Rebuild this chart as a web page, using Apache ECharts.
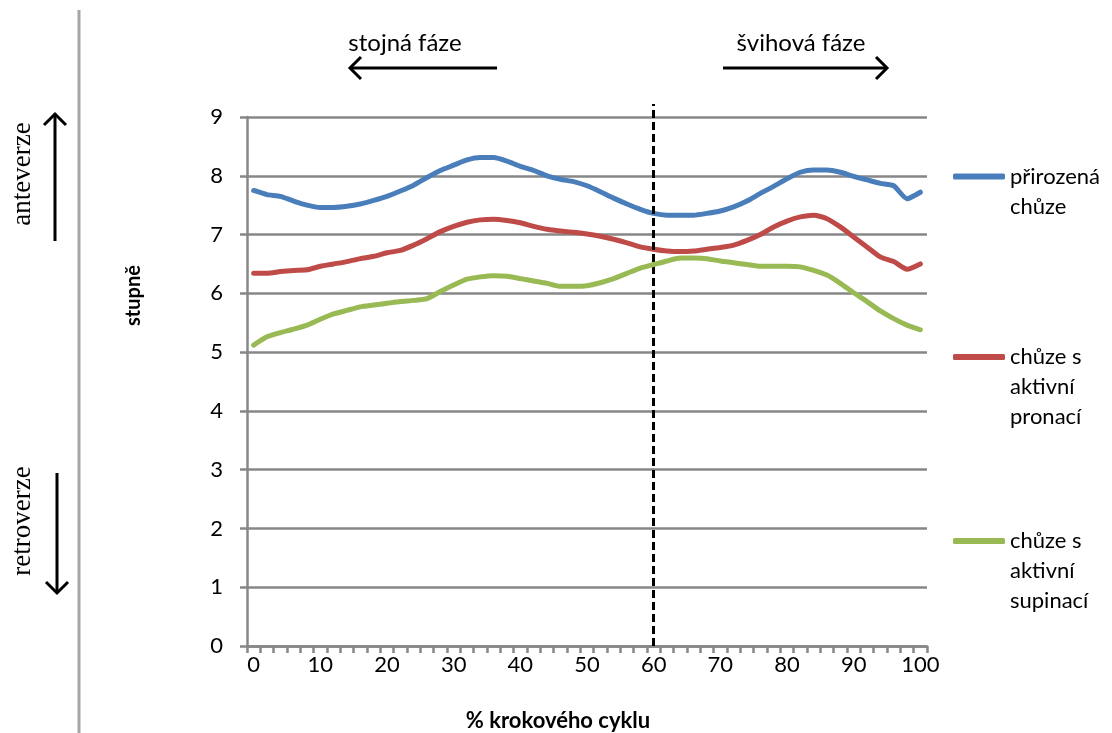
<!DOCTYPE html>
<html>
<head>
<meta charset="utf-8">
<script src="https://cdn.jsdelivr.net/npm/echarts@6/dist/echarts.min.js"></script>
<style>html,body{margin:0;padding:0;background:#fff;}#c{width:1112px;height:733px;}</style>
</head>
<body>
<div id="c"></div>
<script>
// ---- data ----
const categories = [];
for (let p = 0; p <= 100; p += 2) categories.push(String(p));
const seriesNames = ['přirozená chůze', 'chůze s aktivní pronací', 'chůze s aktivní supinací'];
const legendLines = [['přirozená', 'chůze'], ['chůze s', 'aktivní', 'pronací'], ['chůze s', 'aktivní', 'supinací']];
const natural = [7.75,7.68,7.65,7.57,7.50,7.46,7.46,7.48,7.52,7.58,7.65,7.74,7.84,7.97,8.09,8.18,8.27,8.31,8.31,8.25,8.16,8.09,8.00,7.94,7.90,7.83,7.73,7.62,7.52,7.43,7.36,7.33,7.33,7.33,7.36,7.40,7.47,7.57,7.70,7.82,7.95,8.06,8.10,8.10,8.06,7.99,7.93,7.87,7.83,7.61,7.72];
const pronation = [6.34,6.34,6.37,6.39,6.40,6.46,6.50,6.54,6.59,6.63,6.69,6.73,6.82,6.93,7.05,7.14,7.21,7.25,7.26,7.24,7.20,7.14,7.09,7.06,7.04,7.01,6.97,6.92,6.86,6.79,6.75,6.72,6.71,6.72,6.75,6.78,6.82,6.90,7.00,7.13,7.23,7.30,7.33,7.27,7.13,6.96,6.79,6.62,6.54,6.41,6.50];
const supination = [5.12,5.26,5.33,5.39,5.46,5.56,5.65,5.71,5.77,5.80,5.83,5.86,5.88,5.91,6.03,6.14,6.24,6.28,6.30,6.29,6.25,6.21,6.17,6.12,6.12,6.13,6.18,6.25,6.34,6.43,6.49,6.55,6.60,6.60,6.59,6.55,6.52,6.49,6.46,6.46,6.46,6.45,6.39,6.31,6.17,6.01,5.86,5.70,5.57,5.46,5.38];
const phaseBoundary = '60';
const yTicks = [0, 9, 1]; // min, max, interval

// ---- styles ----
const colors = ['#4A7EBB', '#BE4B48', '#98B954'];
const gridGray = '#878787';
const sans = 'Lato, "Open Sans", sans-serif';
const serif = '"Liberation Serif", "DejaVu Serif", serif';
const LH = 30;

const chart = echarts.init(document.getElementById('c'), null, {renderer: 'canvas'});

const legendTops = [131.5, 282, 466];
const legends = seriesNames.map((n, i) => ({
  left: 953, top: legendTops[i], padding: 0,
  orient: 'vertical',
  data: [{name: n, icon: 'roundRect'}],
  itemWidth: 52, itemHeight: 6,
  selectedMode: false,
  formatter: () => '\n'.repeat(legendLines[i].length - 1) + legendLines[i].join('\n'),
  textStyle: {fontFamily: sans, fontSize: 22, color: '#000', lineHeight: LH}
}));

function arrow(x1, y1, x2, y2, head) {
  const dx = x2 - x1, dy = y2 - y1, len = Math.hypot(dx, dy);
  const ux = dx / len, uy = dy / len;
  const px = -uy, py = ux;
  return [
    {type: 'line', shape: {x1, y1, x2, y2}, style: {stroke: '#000', lineWidth: 3}},
    {type: 'polyline', shape: {points: [
      [x2 - ux * head + px * head, y2 - uy * head + py * head],
      [x2, y2],
      [x2 - ux * head - px * head, y2 - uy * head - py * head]]},
      style: {stroke: '#000', lineWidth: 3, fill: null}}
  ];
}

const graphics = [
  {type: 'line', shape: {x1: 79, y1: 10, x2: 79, y2: 733}, style: {stroke: '#a6a6a6', lineWidth: 3}},
  {type: 'text', x: 23, y: 174, rotation: Math.PI / 2,
    style: {text: 'anteverze', fontFamily: serif, fontSize: 27, fill: '#000', align: 'center', verticalAlign: 'middle'}},
  {type: 'text', x: 23, y: 521, rotation: Math.PI / 2,
    style: {text: 'retroverze', fontFamily: serif, fontSize: 27, fill: '#000', align: 'center', verticalAlign: 'middle'}},
  ...arrow(55, 241, 55, 114, 11),
  ...arrow(57, 473, 57, 593, 11),
  {type: 'text', x: 405, y: 43,
    style: {text: 'stojná fáze', fontFamily: sans, fontSize: 24, fill: '#000', align: 'center', verticalAlign: 'middle'}},
  {type: 'text', x: 801, y: 43,
    style: {text: 'švihová fáze', fontFamily: sans, fontSize: 24, fill: '#000', align: 'center', verticalAlign: 'middle'}},
  ...arrow(497, 68, 350, 68, 11),
  ...arrow(723, 68, 887, 68, 11)
];

const lineSeries = [natural, pronation, supination].map((d, i) => ({
  name: seriesNames[i], type: 'line', data: d,
  symbol: 'none', smooth: 0.2,
  lineStyle: {color: colors[i], width: 5, cap: 'round', join: 'round'},
  itemStyle: {color: colors[i]},
  z: 3 + i
}));
// phase boundary line, drawn in a slightly taller overlay grid sharing the same x mapping
lineSeries.push({
  type: 'line', xAxisIndex: 1, yAxisIndex: 1, data: [], silent: true, z: 10,
  markLine: {
    silent: true, symbol: 'none', animation: false,
    label: {show: false},
    lineStyle: {color: '#000', type: [8, 4], width: 3},
    data: [{xAxis: phaseBoundary}]
  }
});

chart.setOption({
  animation: false,
  backgroundColor: '#fff',
  grid: [
    {left: 247, right: 185, top: 117, bottom: 87, containLabel: false, outerBoundsMode: 'none'},
    {left: 247, right: 185, top: 104, bottom: 87, containLabel: false, outerBoundsMode: 'none'}
  ],
  legend: legends,
  xAxis: [{
    type: 'category', data: categories, boundaryGap: true,
    name: '% krokového cyklu', nameLocation: 'middle', nameGap: 64,
    nameTextStyle: {fontFamily: sans, fontSize: 22, fontWeight: 'bold', color: '#000', padding: [0, 58, 0, 0]},
    axisLine: {lineStyle: {color: gridGray, width: 2.5}},
    axisTick: {show: true, interval: 0, length: 7, lineStyle: {color: gridGray, width: 2.5}},
    axisLabel: {interval: 4, margin: 8, fontFamily: sans, fontSize: 22, color: '#000'},
    splitLine: {show: false}
  }, {
    gridIndex: 1, type: 'category', data: categories, boundaryGap: true, show: false
  }],
  yAxis: [{
    type: 'value', min: yTicks[0], max: yTicks[1], interval: yTicks[2],
    name: 'stupně', nameLocation: 'middle', nameGap: 103, nameRotate: 90,
    nameTextStyle: {fontFamily: sans, fontSize: 20, fontWeight: 'bold', color: '#000', padding: [0, 0, 0, 172]},
    axisLine: {show: true, lineStyle: {color: gridGray, width: 2.5}},
    axisTick: {show: true, length: 7, lineStyle: {color: gridGray, width: 2.5}},
    axisLabel: {margin: 24, fontFamily: sans, fontSize: 22, color: '#000'},
    splitLine: {show: true, lineStyle: {color: gridGray, width: 2.5}}
  }, {
    gridIndex: 1, type: 'value', min: 0, max: 1, show: false
  }],
  series: lineSeries,
  graphic: graphics
});
</script>
</body>
</html>
